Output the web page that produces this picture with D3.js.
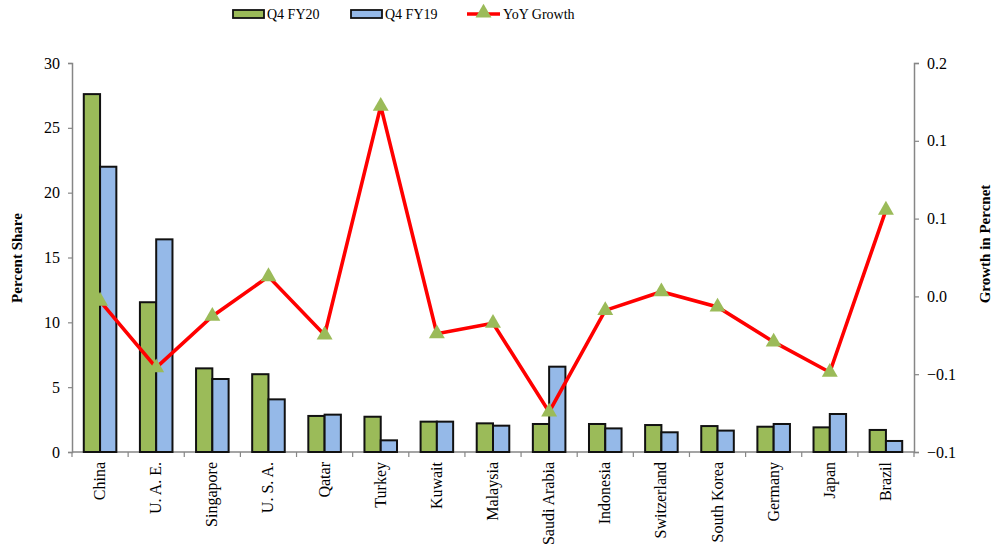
<!DOCTYPE html>
<html>
<head>
<meta charset="utf-8">
<script src="https://cdn.jsdelivr.net/npm/d3@7"></script>
<style>
  body { margin: 0; background: #fff; }
  svg text { font-family: "Liberation Serif", "Times New Roman", serif; }
</style>
</head>
<body>
<script>
// data
let countries = ["China", "U. A. E.", "Singapore", "U. S. A.", "Qatar", "Turkey", "Kuwait", "Malaysia",
  "Saudi Arabia", "Indonesia", "Switzerland", "South Korea", "Germany", "Japan", "Brazil"];
let fy20 = [27.6, 11.55, 6.45, 6.0, 2.78, 2.72, 2.34, 2.21, 2.16, 2.16, 2.08, 2.0, 1.95, 1.9, 1.7];
let fy19 = [22.0, 16.4, 5.63, 4.06, 2.88, 0.9, 2.34, 2.03, 6.58, 1.82, 1.52, 1.65, 2.16, 2.93, 0.85];
let growth = [-0.004, -0.061, -0.017, 0.017, -0.033, 0.163, -0.032, -0.023, -0.099, -0.012, 0.004, -0.009, -0.039, -0.065, 0.074];
let leftTicks = [0, 5, 10, 15, 20, 25, 30];
let rightTicks = [-2, -1, 0, 1, 2, 3].map(d => d / 15);

let green = "#9BBB59", blue = "#95B9E8", red = "#FF0000", axisGray = "#868686";
let serif = "'Liberation Serif', 'Times New Roman', serif";

let svg = d3.select("body").append("svg")
    .attr("width", 996)
    .attr("height", 552)
    .attr("font-family", serif);

let x = d3.scaleBand().domain(countries).range([72, 914]).paddingInner(0.42).paddingOuter(0.21);
let xIn = d3.scaleBand().domain(["fy20", "fy19"]).range([0, x.bandwidth()]);
let yL = d3.scaleLinear().domain([0, 30]).range([452, 63]);
let yR = d3.scaleLinear().domain([-2 / 15, 0.2]).range([452, 63]);

// left axis
let gL = svg.append("g").attr("transform", "translate(72,0)")
    .call(d3.axisLeft(yL).tickValues(leftTicks).tickSize(4).tickPadding(8));
// right axis
let gR = svg.append("g").attr("transform", "translate(914,0)")
    .call(d3.axisRight(yR).tickValues(rightTicks).tickSize(5).tickPadding(8).tickFormat(d3.format(".1f")));

[gL, gR].forEach(g => {
  g.attr("font-family", serif).attr("font-size", 16);
  g.select(".domain").attr("stroke", axisGray).attr("stroke-width", 1.5);
  g.selectAll(".tick line").attr("stroke", axisGray).attr("stroke-width", 1.2);
  g.selectAll(".tick text").attr("fill", "#000");
});

// bottom axis
let step = x.step();
let gB = svg.append("g").attr("font-family", serif);
gB.append("line").attr("x1", 72).attr("x2", 914).attr("y1", 452).attr("y2", 452)
  .attr("stroke", axisGray).attr("stroke-width", 1.5);
gB.selectAll("line.tk").data(d3.range(countries.length + 1)).join("line")
  .attr("class", "tk")
  .attr("x1", i => 72 + i * step).attr("x2", i => 72 + i * step)
  .attr("y1", 452).attr("y2", 457)
  .attr("stroke", axisGray).attr("stroke-width", 1.2);
gB.selectAll("text").data(countries).join("text")
  .attr("transform", d => `translate(${x(d) + x.bandwidth() / 2 + 5},462) rotate(-90)`)
  .attr("text-anchor", "end")
  .attr("font-size", 16)
  .text(d => d);

// bars
let bars = svg.append("g");
bars.selectAll("rect.b20").data(countries).join("rect")
  .attr("class", "b20")
  .attr("x", d => x(d) + xIn("fy20"))
  .attr("y", (d, i) => yL(fy20[i]))
  .attr("width", xIn.bandwidth())
  .attr("height", (d, i) => yL(0) - yL(fy20[i]))
  .attr("fill", green).attr("stroke", "#111").attr("stroke-width", 2);
bars.selectAll("rect.b19").data(countries).join("rect")
  .attr("class", "b19")
  .attr("x", d => x(d) + xIn("fy19"))
  .attr("y", (d, i) => yL(fy19[i]))
  .attr("width", xIn.bandwidth())
  .attr("height", (d, i) => yL(0) - yL(fy19[i]))
  .attr("fill", blue).attr("stroke", "#111").attr("stroke-width", 2);

// growth line
let cx = d => x(d) + x.bandwidth() / 2;
let line = d3.line().x((d, i) => cx(countries[i])).y(d => yR(d));
svg.append("path").datum(growth)
  .attr("d", line)
  .attr("fill", "none").attr("stroke", red).attr("stroke-width", 3.6)
  .attr("stroke-linejoin", "miter");

let tri = d3.symbol().type(d3.symbolTriangle).size(110);
svg.append("g").selectAll("path").data(growth).join("path")
  .attr("d", tri)
  .attr("transform", (d, i) => `translate(${cx(countries[i])},${yR(d)})`)
  .attr("fill", green);

// axis titles
svg.append("text")
  .attr("transform", "translate(22,258) rotate(-90)")
  .attr("text-anchor", "middle").attr("font-size", 15).attr("font-weight", "bold")
  .text("Percent Share");
svg.append("text")
  .attr("transform", "translate(990,244) rotate(-90)")
  .attr("text-anchor", "middle").attr("font-size", 15).attr("font-weight", "bold")
  .text("Growth in Percnet");

// legend
let leg = svg.append("g");
leg.append("rect").attr("x", 233).attr("y", 10).attr("width", 31).attr("height", 8)
  .attr("fill", green).attr("stroke", "#111").attr("stroke-width", 1.8);
leg.append("text").attr("x", 267).attr("y", 19).attr("font-size", 14).text("Q4 FY20");
leg.append("rect").attr("x", 351).attr("y", 10).attr("width", 31).attr("height", 8)
  .attr("fill", blue).attr("stroke", "#111").attr("stroke-width", 1.8);
leg.append("text").attr("x", 385).attr("y", 19).attr("font-size", 14).text("Q4 FY19");
leg.append("line").attr("x1", 467).attr("x2", 500).attr("y1", 14).attr("y2", 14)
  .attr("stroke", red).attr("stroke-width", 3.4);
leg.append("path").attr("d", tri).attr("transform", "translate(483.5,13)").attr("fill", green);
leg.append("text").attr("x", 503).attr("y", 19).attr("font-size", 14).text("YoY Growth");
</script>
</body>
</html>
